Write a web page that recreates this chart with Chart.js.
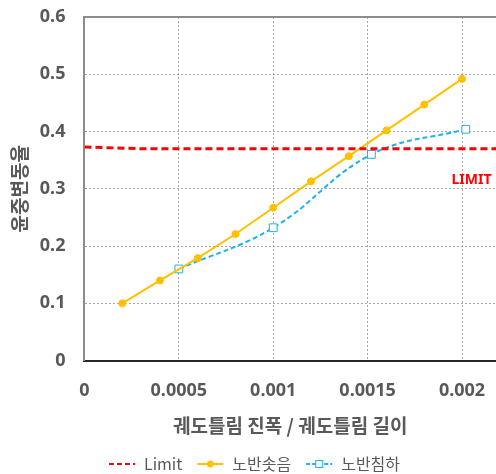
<!DOCTYPE html>
<html>
<head>
<meta charset="utf-8">
<script src="https://cdn.jsdelivr.net/npm/chart.js@4.4.1/dist/chart.umd.min.js"></script>
<style>
  html, body { margin: 0; padding: 0; background: #ffffff; }
  #wrap { width: 496px; height: 474px; }
</style>
</head>
<body>
<div id="wrap"><canvas id="chart"></canvas></div>
<script>
// ---- data ----
const seriesNames = ['Limit', '노반솟음', '노반침하'];

const limitX = [0, 0.0003, 0.00218];
const limitY = [0.373, 0.370, 0.370];

const upliftX = [0.0002, 0.0004, 0.0006, 0.0008, 0.001, 0.0012, 0.0014, 0.0016, 0.0018, 0.002];
const upliftY = [0.100, 0.140, 0.179, 0.221, 0.267, 0.313, 0.357, 0.402, 0.447, 0.492];

const settleX = [0.0005, 0.001, 0.00152, 0.00202];
const settleY = [0.160, 0.232, 0.360, 0.404];

const xTicks = [0, 0.0005, 0.001, 0.0015, 0.002];
const xTickLabels = ['0', '0.0005', '0.001', '0.0015', '0.002'];
const yTicks = [0, 0.1, 0.2, 0.3, 0.4, 0.5, 0.6];
const yTickLabels = ['0', '0.1', '0.2', '0.3', '0.4', '0.5', '0.6'];

const xTitle = '궤도틀림 진폭 / 궤도틀림 길이';
const yTitle = '윤중변동율';
const limitText = 'LIMIT';

// ---- helpers ----
function toPoints(xs, ys) {
    return xs.map((x, i) => ({ x: x, y: ys[i] }));
}

// legend icon: short line with optional marker (left gap built in)
function legendIcon(color, dash, marker) {
    const c = document.createElement('canvas');
    c.width = 32;
    c.height = 12;
    const g = c.getContext('2d');
    g.strokeStyle = color;
    g.lineWidth = 2;
    g.setLineDash(dash);
    g.beginPath();
    g.moveTo(5, 6);
    g.lineTo(31, 6);
    g.stroke();
    g.setLineDash([]);
    if (marker === 'circle') {
        g.fillStyle = color;
        g.beginPath();
        g.arc(18, 6, 3.5, 0, Math.PI * 2);
        g.fill();
    } else if (marker === 'rect') {
        g.fillStyle = '#ffffff';
        g.fillRect(14.5, 2.5, 7, 7);
        g.lineWidth = 1;
        g.strokeRect(14.5, 2.5, 7, 7);
    }
    return c;
}

const icons = [
    legendIcon('#FF0000', [5, 3], null),
    legendIcon('#FFC000', [], 'circle'),
    legendIcon('#1FB0EE', [4, 2], 'rect')
];

// red LIMIT label inside the plot
const limitLabel = {
    id: 'limitLabel',
    afterDatasetsDraw(chart) {
        const { ctx, scales: { x, y } } = chart;
        ctx.save();
        ctx.font = 'bold 14px "Noto Sans", sans-serif';
        ctx.fillStyle = '#FF0000';
        ctx.textAlign = 'center';
        ctx.textBaseline = 'middle';
        ctx.fillText(limitText, x.getPixelForValue(0.00205), y.getPixelForValue(0.315));
        ctx.restore();
    }
};

const tickFont = { family: '"Noto Sans", sans-serif', size: 18, weight: 'bold' };
const titleFont = { family: '"Noto Sans CJK KR", sans-serif', size: 19, weight: 'bold' };

new Chart(document.getElementById('chart'), {
    type: 'line',
    data: {
        datasets: [
            {
                label: seriesNames[0],
                data: toPoints(limitX, limitY),
                borderColor: '#FF0000',
                borderWidth: 3,
                borderDash: [7, 4],
                pointRadius: 0,
                fill: false
            },
            {
                label: seriesNames[1],
                data: toPoints(upliftX, upliftY),
                borderColor: '#FFC000',
                backgroundColor: '#FFC000',
                borderWidth: 2,
                pointRadius: 3.5,
                pointBorderWidth: 1,
                pointStyle: 'circle',
                pointBackgroundColor: '#FFC000',
                pointBorderColor: '#FFC000',
                fill: false
            },
            {
                label: seriesNames[2],
                data: toPoints(settleX, settleY),
                borderColor: '#1FB0EE',
                borderWidth: 2,
                borderDash: [5, 3],
                tension: 0.4,
                pointStyle: 'rect',
                pointRadius: 5.5,
                pointBorderWidth: 1,
                pointBackgroundColor: '#ffffff',
                pointBorderColor: '#1FB0EE',
                fill: false
            }
        ]
    },
    options: {
        responsive: true,
        maintainAspectRatio: false,
        animation: false,
        layout: {
            autoPadding: false,
            padding: { left: 8, right: 0, top: 0, bottom: -8 }
        },
        plugins: {
            tooltip: { enabled: false },
            legend: {
                position: 'bottom',
                labels: {
                    usePointStyle: true,
                    pointStyleWidth: 32,
                    padding: 10,
                    color: '#595959',
                    font: { family: '"Noto Sans CJK KR", sans-serif', size: 16 },
                    generateLabels(chart) {
                        const items = Chart.defaults.plugins.legend.labels.generateLabels(chart);
                        items.forEach((it, i) => { it.pointStyle = icons[i]; });
                        return items;
                    }
                }
            }
        },
        scales: {
            x: {
                type: 'linear',
                min: 0,
                max: 0.00218,
                afterBuildTicks(scale) {
                    scale.ticks = xTicks.map(v => ({ value: v }));
                },
                afterFit(scale) {
                    scale.paddingLeft = 0;
                    scale.paddingRight = 0;
                },
                ticks: {
                    color: '#595959',
                    font: tickFont,
                    padding: 19,
                    maxRotation: 0,
                    callback: (v, i) => xTickLabels[i]
                },
                grid: {
                    color: '#a6a6a6',
                    lineWidth: 1,
                    drawTicks: false
                },
                border: {
                    color: '#262626',
                    width: 2,
                    dash: [2, 2]
                },
                title: {
                    display: true,
                    text: xTitle,
                    color: '#595959',
                    font: titleFont,
                    padding: { top: -6, bottom: 9 }
                }
            },
            y: {
                min: 0,
                max: 0.6,
                afterBuildTicks(scale) {
                    scale.ticks = yTicks.map(v => ({ value: v }));
                },
                afterFit(scale) {
                    scale.paddingTop = 17;
                    scale.paddingBottom = 11;
                },
                ticks: {
                    color: '#595959',
                    font: tickFont,
                    padding: 19,
                    callback: (v, i) => yTickLabels[i]
                },
                grid: {
                    color: ctx => (ctx.tick && ctx.tick.value === 0.6) ? '#8c8c8c' : '#a6a6a6',
                    lineWidth: ctx => (ctx.tick && ctx.tick.value === 0.6) ? 2 : 1,
                    drawTicks: false
                },
                border: {
                    color: '#8c8c8c',
                    width: 2,
                    dash: ctx => (ctx.tick && ctx.tick.value === 0.6) ? [] : [2, 2]
                },
                title: {
                    display: true,
                    text: yTitle,
                    color: '#595959',
                    font: titleFont,
                    padding: { top: 0, bottom: -10 }
                }
            }
        }
    },
    plugins: [limitLabel]
});
</script>
</body>
</html>
